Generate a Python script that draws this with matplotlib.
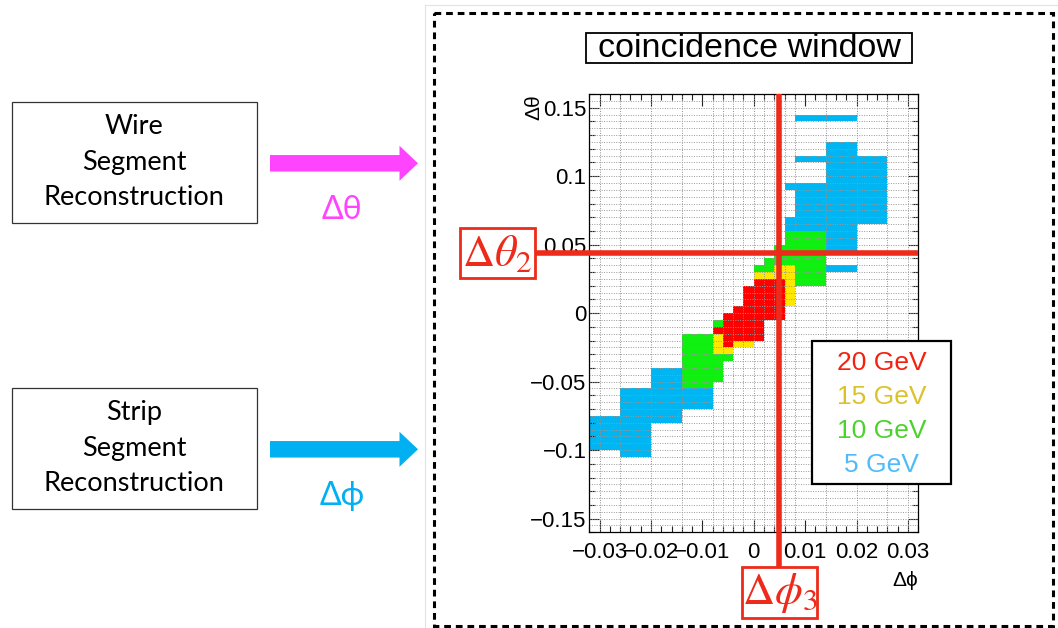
import numpy as np
import matplotlib.pyplot as plt
from matplotlib.patches import Rectangle, FancyArrow

plt.rcParams['mathtext.fontset'] = 'stix'

# visible window cells per energy: (dphi_lo, dphi_hi, dtheta_lo, dtheta_hi)
cells_5gev = [(-0.032, -0.026, -0.100, -0.075), (-0.026, -0.020, -0.105, -0.055),
              (-0.020, -0.014, -0.080, -0.040), (-0.014, -0.008, -0.070, -0.055),
              (0.006, 0.008, 0.060, 0.070), (0.006, 0.008, 0.090, 0.095),
              (0.008, 0.014, 0.060, 0.095), (0.008, 0.014, 0.110, 0.115),
              (0.008, 0.020, 0.140, 0.145), (0.014, 0.020, 0.045, 0.125),
              (0.014, 0.020, 0.030, 0.035), (0.020, 0.026, 0.065, 0.115)]
cells_10gev = [(-0.014, -0.008, -0.055, -0.015), (-0.008, -0.006, -0.010, -0.005),
               (-0.008, -0.006, -0.050, -0.030), (-0.006, -0.004, -0.035, -0.030),
               (0.000, 0.002, 0.030, 0.035), (0.002, 0.004, 0.030, 0.040),
               (0.004, 0.006, 0.035, 0.050), (0.006, 0.008, 0.035, 0.060),
               (0.008, 0.014, 0.020, 0.060)]
cells_15gev = [(-0.008, -0.006, -0.030, -0.015), (-0.006, -0.004, -0.030, -0.025),
               (-0.004, 0.000, -0.025, -0.020), (0.000, 0.004, 0.025, 0.030),
               (0.004, 0.006, 0.025, 0.035), (0.006, 0.008, 0.005, 0.035)]
cells_20gev = [(-0.008, -0.006, -0.015, -0.010), (-0.006, -0.004, -0.025, 0.000),
               (-0.004, -0.002, -0.020, 0.005), (-0.002, 0.000, -0.020, 0.020),
               (0.000, 0.002, -0.020, 0.025), (0.002, 0.006, -0.005, 0.025)]

bin_edges_phi = [-0.03, -0.026, -0.02, -0.014, -0.008, -0.006, -0.004, -0.002, 0,
                 0.002, 0.004, 0.006, 0.008, 0.014, 0.02, 0.026, 0.03]
xticks = [-0.03, -0.02, -0.01, 0, 0.01, 0.02, 0.03]
xtick_labels = ['\u22120.03', '\u22120.02', '\u22120.01', '0', '0.01', '0.02', '0.03']
yticks = [-0.15, -0.1, -0.05, 0, 0.05, 0.1, 0.15]
ytick_labels = ['\u22120.15', '\u22120.1', '\u22120.05', '0', '0.05', '0.1', '0.15']

legend_labels = ['20 GeV', '15 GeV', '10 GeV', '5 GeV']
legend_colors = ['#f4210f', '#dcc22a', '#4cd22c', '#4fbcf8']

dtheta2 = 0.044
dphi3 = 0.0049

W, H = 1058, 628
fig = plt.figure(figsize=(W / 100, H / 100), dpi=100)

# histogram axes
x0, x1, y0, y1 = 589.3, 918.2, 94, 532.3
ax = fig.add_axes([x0 / W, 1 - y1 / H, (x1 - x0) / W, (y1 - y0) / H])
ax.set_xlim(-0.032, 0.032)
ax.set_ylim(-0.16, 0.16)

for cells, col in [(cells_5gev, '#00b6f2'), (cells_10gev, '#10f010'),
                   (cells_15gev, '#ffe800'), (cells_20gev, '#ff0000')]:
    for a, b, c, d in cells:
        ax.bar(a, d - c, width=b - a, bottom=c, align='edge', color=col, linewidth=0, zorder=1)

ax.vlines(bin_edges_phi, -0.16, 0.16, colors='#909090', linewidth=0.7,
          linestyles=(0, (1, 1.5)), zorder=2)
ax.hlines(np.arange(-0.155, 0.156, 0.005), -0.032, 0.032, colors='#999999',
          linewidth=0.7, linestyles=(0, (1, 1.5)), zorder=2)

ax.set_xticks(xticks, labels=xtick_labels)
ax.set_yticks(yticks, labels=ytick_labels)
ax.set_xticks(np.arange(-0.032, 0.0321, 0.002), minor=True)
ax.set_yticks(np.arange(-0.16, 0.161, 0.01), minor=True)
ax.tick_params(which='both', direction='in', top=True, right=True, width=0.8, color='#222222')
ax.tick_params(axis='x', which='major', length=8.5, pad=7)
ax.tick_params(axis='x', which='minor', length=4.5)
ax.tick_params(axis='y', which='major', length=7.5, pad=2)
ax.tick_params(axis='y', which='minor', length=4.5)
for lab in ax.get_xticklabels() + ax.get_yticklabels():
    lab.set_fontfamily(['Liberation Sans', 'DejaVu Sans'])
    lab.set_fontsize(16)
for s in ax.spines.values():
    s.set_linewidth(0.9)
    s.set_zorder(3)

# pixel of the red lines
px_phi3 = ax.transData.transform((dphi3, 0))[0]
py_theta2 = H - ax.transData.transform((0, dtheta2))[1]

# overlay in pixel units
ov = fig.add_axes([0, 0, 1, 1])
ov.set_xlim(0, W)
ov.set_ylim(H, 0)
ov.axis('off')

ov.plot([425, 425, W], [H, 5, 5], color='#e2e2e2', lw=0.8)
ov.add_patch(Rectangle((433.5, 12.5), 619, 613, fill=False, ec='black', lw=2.2,
                       ls=(0, (2.2, 1.6))))

sans = ['Lato', 'DejaVu Sans']
helv = ['Liberation Sans', 'DejaVu Sans']

# left boxes and arrows
for top, lines, col, sym in [(102.3, ['Wire', 'Segment', 'Reconstruction'], '#ff44ff', '\u0394\u03b8'),
                             (388.3, ['Strip', 'Segment', 'Reconstruction'], '#00b0f0', '\u0394\u03d5')]:
    ov.add_patch(Rectangle((11.7, top), 245, 121, fill=False, ec='#333333', lw=0.9))
    for i, t in enumerate(lines):
        ov.text(134, top + 24.5 + 35.5 * i, t, ha='center', va='center', fontsize=19.5,
                family=sans, color='black')
    yc = top + 61
    ov.add_patch(FancyArrow(270, yc, 148, 0, width=16.5, head_width=35, head_length=18.5,
                            length_includes_head=True, color=col, lw=0))
    ov.text(342, top + 108, sym, ha='center', va='center', fontsize=23, family=sans, color=col)

# title
ov.add_patch(Rectangle((586, 33.3), 325.7, 30, fill=False, ec='black', lw=1.3))
ov.text(749, 48.5, 'coincidence window', ha='center', va='center', fontsize=24.5,
        family=helv, color='black')

# axis titles
ov.text(534, 94, '\u0394\u03b8', rotation=90, ha='center', va='top', fontsize=15, family=helv)
ov.text(918.2, 580, '\u0394\u03d5', ha='right', va='center', fontsize=15, family=helv)

# legend
ov.add_patch(Rectangle((811.7, 340.7), 139.3, 143.3, fc='white', ec='black', lw=1.6, zorder=4))
for i, (t, c) in enumerate(zip(legend_labels, legend_colors)):
    ov.text(881.5, 363.5 + 33.8 * i, t, ha='center', va='center', fontsize=19,
            family=helv, color=c, zorder=5)

# red lines and labels
red = '#ee2a1a'
ov.plot([535, x1], [py_theta2, py_theta2], color=red, lw=4, solid_capstyle='butt', zorder=6)
ov.plot([px_phi3, px_phi3], [y0, 566.7], color=red, lw=4, solid_capstyle='butt', zorder=6)
ov.add_patch(Rectangle((460, 228.3), 75, 50, fc='white', ec=red, lw=2, zorder=7))
ov.text(497.5, 254, r'$\Delta\theta_2$', ha='center', va='center', fontsize=32, color=red, zorder=8)
ov.add_patch(Rectangle((741.7, 566.7), 75.6, 51.6, fc='white', ec=red, lw=2, zorder=7))
ov.text(779.5, 593, r'$\Delta\phi_3$', ha='center', va='center', fontsize=32, color=red, zorder=8)

fig.savefig('out.png', dpi=100)
